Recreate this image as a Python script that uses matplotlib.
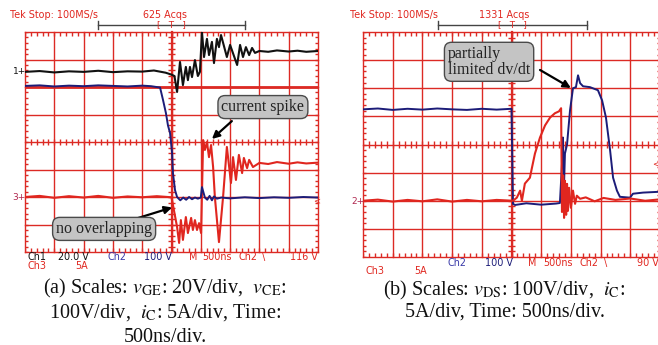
import matplotlib
matplotlib.use('Agg')
import matplotlib.pyplot as plt
from matplotlib.collections import LineCollection
from matplotlib.lines import Line2D

plt.rcParams['font.family'] = ['DejaVu Sans']
plt.rcParams['mathtext.fontset'] = 'stix'

# ---------------- data (time and level in scope divisions) ----------------
# Panel (a): Ch1 = v_GE (black), Ch2 = v_CE (blue), Ch3 = i_C (red)
a_vge_t = [0, 0.5, 1.0, 1.5, 2.0, 2.5, 3.0, 3.5, 4.0, 4.4, 4.8, 5.0, 5.1,
           5.19, 5.29, 5.39, 5.49, 5.56, 5.63, 5.70, 5.80, 5.90, 5.97,
           6.04, 6.11, 6.21, 6.28, 6.38, 6.45, 6.55, 6.62, 6.69, 6.89,
           7.0, 7.24, 7.34, 7.44, 7.54, 7.65, 7.75, 7.85,
           8.0, 8.3, 8.6, 9.0, 9.3, 9.6, 10.0]
a_vge_v = [6.55, 6.58, 6.53, 6.57, 6.55, 6.59, 6.54, 6.57, 6.56, 6.60, 6.52, 6.45, 6.40,
           5.82, 6.91, 6.07, 6.73, 6.25, 6.73, 6.36, 6.98, 6.40, 6.55,
           8.0, 7.09, 7.75, 7.16, 7.64, 6.87, 7.75, 7.45, 7.89, 7.09,
           7.53, 6.80, 7.53, 7.09, 7.45, 7.16, 7.42, 7.24,
           7.31, 7.28, 7.33, 7.29, 7.32, 7.28, 7.31]

a_vce_t = [0, 0.5, 1.0, 1.5, 2.0, 2.5, 3.0, 3.5, 4.0, 4.3, 4.61,
           4.71, 4.81, 4.88, 4.95, 5.02, 5.05, 5.12, 5.19,
           5.3, 5.4, 5.5, 5.6, 5.7, 5.8, 5.9, 6.0,
           6.04, 6.14, 6.22, 6.3, 6.38, 6.45, 6.55, 6.7,
           7.0, 7.5, 8.0, 8.5, 9.0, 9.5, 10.0]
a_vce_v = [6.04, 6.06, 6.02, 6.05, 6.03, 6.06, 6.04, 6.02, 6.05, 6.03, 5.98,
           5.53, 5.05, 4.6, 4.33, 3.6, 2.87, 2.25, 2.0,
           1.88, 1.98, 1.90, 2.0, 1.92, 1.98, 1.94, 1.98,
           2.36, 1.98, 1.90, 2.04, 1.88, 2.02, 1.94, 1.98,
           1.95, 1.99, 1.96, 1.99, 1.97, 2.0, 1.98]

a_ic_t = [0, 0.5, 1.0, 1.5, 2.0, 2.5, 3.0, 3.5, 4.0, 4.5, 5.0,
          5.19, 5.26, 5.32, 5.39, 5.49, 5.56, 5.67, 5.73, 5.80, 5.87, 5.94, 6.01,
          6.08, 6.14, 6.21, 6.28, 6.35, 6.42, 6.48, 6.62, 6.76, 6.89,
          7.03, 7.10, 7.20, 7.30, 7.41, 7.47, 7.58, 7.65, 7.78,
          8.0, 8.3, 8.6, 9.0, 9.3, 9.6, 10.0]
a_ic_v = [2.0, 2.04, 1.97, 2.03, 1.98, 2.04, 1.97, 2.02, 1.99, 2.03, 1.99,
          0.91, 0.33, 1.16, 0.44, 1.27, 0.69, 1.24, 0.8, 1.16, 0.8, 1.05, 0.69,
          4.07, 3.71, 4.0, 3.45, 3.89, 3.09, 2.0, 0.36, 2.0, 3.82,
          2.51, 3.45, 2.62, 3.53, 2.87, 3.42, 3.05, 3.35, 3.09,
          3.24, 3.20, 3.27, 3.21, 3.26, 3.22, 3.25]

# Panel (b): Ch2 = v_DS (blue), Ch3 = i_C (red)
b_vds_t = [0, 0.5, 1.0, 1.5, 2.0, 2.5, 3.0, 3.5, 4.0, 4.5,
           5.0, 5.05, 5.12, 5.5, 6.0, 6.5,
           6.63, 6.70, 6.73, 6.77, 6.80, 6.87, 6.97,
           7.07, 7.17, 7.24, 7.31, 7.41, 7.64, 7.91,
           8.05, 8.18, 8.32, 8.42, 8.55, 8.65,
           8.99, 9.09, 9.43, 10.0]
b_vds_v = [5.25, 5.28, 5.23, 5.27, 5.24, 5.28, 5.25, 5.23, 5.27, 5.24,
           5.27, 1.89, 1.85, 1.91, 1.86, 1.90,
           1.92, 3.32, 4.25, 2.6, 3.68, 4.0, 5.21,
           6.0, 6.04, 6.46, 6.18, 6.07, 6.04, 5.93,
           5.57, 4.96, 3.79, 2.82, 2.36, 2.14,
           2.11, 2.25, 2.29, 2.32]

b_ic_t = [0, 0.5, 1.0, 1.5, 2.0, 2.5, 3.0, 3.5, 4.0, 4.5,
          5.05, 5.18, 5.29, 5.35, 5.45, 5.62, 5.69, 5.79, 5.96,
          6.13, 6.30, 6.46, 6.60, 6.67,
          6.70, 6.74, 6.77, 6.80, 6.84, 6.87, 6.90, 6.94,
          7.0, 7.07, 7.14, 7.20, 7.31,
          7.5, 7.8, 8.1, 8.5, 9.0, 9.5, 10.0]
b_ic_v = [2.0, 2.04, 1.97, 2.03, 1.98, 2.05, 1.97, 2.03, 1.98, 2.03,
          2.0, 2.11, 2.36, 2.0, 2.61, 2.82, 3.18, 3.68, 4.25,
          4.68, 4.96, 5.11, 5.18, 5.29,
          1.6, 2.9, 1.39, 2.71, 1.5, 2.6, 1.64, 2.46,
          1.75, 2.36, 1.89, 2.18, 2.07,
          2.12, 1.98, 2.1, 2.03, 2.08, 2.0, 2.05]

# ---------------- styling ----------------
RED = '#e0261f'
GRID = '#dc2a24'
BLUE = '#1c1c78'
BLUE2 = '#3a3aa8'
BLACK = '#111111'

W, H = 658, 345
fig = plt.figure(figsize=(W / 100, H / 100), dpi=100)
fig.patch.set_facecolor('white')


def fx(x):
    return x / W


def fy(y):
    return 1 - y / H


def scope_grid(ax):
    ax.set_xlim(0, 10)
    ax.set_ylim(0, 8)
    ax.axis('off')
    for i in range(11):
        ax.axvline(i, color=GRID, lw=1.0, zorder=1, clip_on=False)
    for j in range(9):
        ax.axhline(j, color=GRID, lw=1.0, zorder=1, clip_on=False)
    ax.axvline(5, color=GRID, lw=1.6, zorder=1, clip_on=False)
    segs = []
    for k in range(51):
        x = k * 0.2
        segs.append([(x, 0), (x, 0.13)])
        segs.append([(x, 8), (x, 7.87)])
        segs.append([(x, 3.88), (x, 4.12)])
    for k in range(41):
        y = k * 0.2
        segs.append([(0, y), (0.1, y)])
        segs.append([(10, y), (9.9, y)])
        segs.append([(4.88, y), (5.12, y)])
    ax.add_collection(LineCollection(segs, colors=GRID, lw=1.0, zorder=1))


ax_a = fig.add_axes([fx(25), fy(252), 293 / W, 220 / H])
ax_b = fig.add_axes([fx(363), fy(257), 297 / W, 225 / H])
scope_grid(ax_a)
scope_grid(ax_b)
ax_a.axhline(6, color=GRID, lw=2.0, zorder=1)

# traces
ax_a.plot(a_ic_t, a_ic_v, color=RED, lw=1.5, zorder=3)
ax_a.plot(a_vce_t, a_vce_v, color=BLUE, lw=1.4, zorder=4)
ax_a.plot(a_vge_t, a_vge_v, color=BLACK, lw=1.5, zorder=5)
ax_b.plot(b_vds_t, b_vds_v, color=BLUE, lw=1.4, zorder=3)
ax_b.plot(b_ic_t, b_ic_v, color=RED, lw=1.5, zorder=4)

# callouts
box = dict(boxstyle='round,pad=0.22,rounding_size=0.45', fc='#c4c4c4', ec='#4a4a4a', lw=1.0)
afont = dict(family='Liberation Serif', fontsize=11.5, color='#222222', zorder=10)
arrow = dict(arrowstyle='-|>', color='black', lw=1.6, mutation_scale=11,
             shrinkA=0, shrinkB=0)

ax_a.text(8.12, 5.27, 'current spike', ha='center', va='center', bbox=box, **afont)
ax_a.annotate('', xy=(6.38, 4.11), xytext=(7.06, 4.76), arrowprops=arrow,
              annotation_clip=False, zorder=9)
ax_a.text(2.70, 0.84, 'no overlapping', ha='center', va='center', bbox=box, **afont)
ax_a.annotate('', xy=(5.02, 1.62), xytext=(3.75, 1.2), arrowprops=arrow,
              annotation_clip=False, zorder=9)
ax_b.text(2.86, 6.94, 'partially\nlimited dv/dt', ha='left', va='center',
          linespacing=1.0, bbox=box, **afont)
ax_b.annotate('', xy=(7.0, 6.01), xytext=(5.96, 6.65), arrowprops=arrow,
              annotation_clip=False, zorder=9)

# scope header texts
sfont = dict(fontsize=6.9, va='center')
fig.text(fx(10), fy(15), 'Tek Stop: 100MS/s', color=RED, **sfont)
fig.text(fx(143), fy(15), '625 Acqs', color=RED, **sfont)
fig.text(fx(350), fy(15), 'Tek Stop: 100MS/s', color=RED, **sfont)
fig.text(fx(479), fy(15), '1331 Acqs', color=RED, **sfont)
for x0, x1, xc in [(98, 245, 171), (438, 587, 512)]:
    fig.add_artist(Line2D([fx(x0), fx(x1)], [fy(25), fy(25)], color='#444444', lw=1.0))
    fig.add_artist(Line2D([fx(x0), fx(x0)], [fy(21), fy(29)], color='#444444', lw=1.0))
    fig.add_artist(Line2D([fx(x1), fx(x1)], [fy(21), fy(29)], color='#444444', lw=1.0))
    fig.text(fx(xc), fy(25), '[   T   ]', color=RED, fontsize=6.3, ha='center', va='center')

# channel markers
fig.text(fx(13), fy(71), '1+', color=BLACK, fontsize=6.5, va='center')
fig.text(fx(12), fy(198), '3+', color='#b02850', fontsize=6.5, va='center')
fig.text(fx(351), fy(201), '2+', color='#b02850', fontsize=6.5, va='center')
fig.text(fx(313), fy(201), '<', color=RED, fontsize=6, va='center')
fig.text(fx(652), fy(164), '<', color=RED, fontsize=6, va='center')

# scope footer texts
foot_a = [(27, 257, 'Ch1', BLACK), (58, 257, '20.0 V', BLACK), (108, 257, 'Ch2', BLUE2),
          (144, 257, '100 V', BLUE), (189, 257, 'M', RED), (202, 257, '500ns', RED),
          (238, 257, 'Ch2', RED), (262, 257, '\\', RED), (290, 257, '116 V', RED),
          (27, 266, 'Ch3', RED), (75, 266, '5A', RED)]
foot_b = [(448, 263, 'Ch2', BLUE2), (485, 263, '100 V', BLUE), (528, 263, 'M', RED),
          (543, 263, '500ns', RED), (579, 263, 'Ch2', RED), (604, 263, '\\', RED),
          (637, 263, '90 V', RED), (366, 271, 'Ch3', RED), (414, 271, '5A', RED)]
for x, y, s, c in foot_a + foot_b:
    fig.text(fx(x), fy(y), s, color=c, **sfont)

# captions
cfont = dict(family='Liberation Serif', fontsize=14.5, color='#111111', ha='center', va='center')
fig.text(fx(165), fy(288), r'(a) Scales: $v_{\rm GE}$: 20V/div,  $v_{\rm CE}$:', **cfont)
fig.text(fx(165), fy(313), r'100V/div,  $i_{\rm C}$: 5A/div, Time:', **cfont)
fig.text(fx(165), fy(337), '500ns/div.', **cfont)
fig.text(fx(504), fy(290), r'(b) Scales: $v_{\rm DS}$: 100V/div,  $i_{\rm C}$:', **cfont)
fig.text(fx(505), fy(312), '5A/div, Time: 500ns/div.', **cfont)

fig.savefig('out.png', dpi=100, facecolor='white')
